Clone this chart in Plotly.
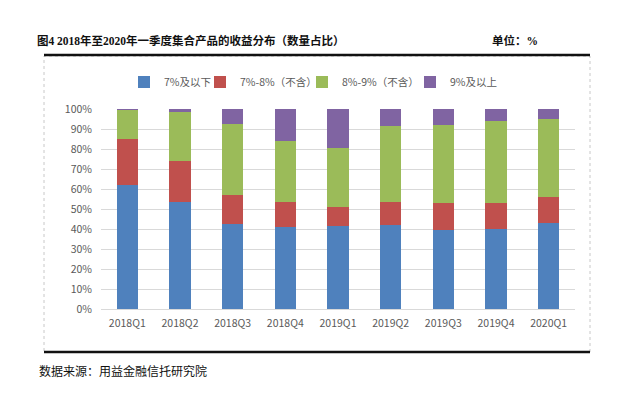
import plotly.graph_objects as go

categories = ["2018Q1", "2018Q2", "2018Q3", "2018Q4", "2019Q1", "2019Q2", "2019Q3", "2019Q4", "2020Q1"]
series_names = ["7%及以下", "7%-8%（不含）", "8%-9%（不含）", "9%及以上"]
below7 = [62.2, 53.3, 42.6, 40.8, 41.6, 41.9, 39.3, 40.0, 43.0]
r7to8 = [23.0, 20.5, 14.5, 12.7, 9.2, 11.6, 13.7, 13.0, 12.8]
r8to9 = [14.4, 24.5, 35.4, 30.7, 29.7, 38.2, 38.8, 40.8, 39.4]
above9 = [0.4, 1.7, 7.5, 15.8, 19.5, 8.3, 8.2, 6.2, 4.8]
colors = ["#4F81BD", "#C0504D", "#9BBB59", "#8064A2"]
y_ticks = [0, 10, 20, 30, 40, 50, 60, 70, 80, 90, 100]
y_ticktext = [f"{v}%" for v in y_ticks]

FONT = "Noto Sans CJK SC"
W, H = 635, 394
L, R, T, B = 101, 60, 109, 85
PW, PH = W - L - R, H - T - B

def px(x):
    return (x - L) / PW

def py(y):
    return 1 - (y - T) / PH

# legend square centres in the reference
legend_sq = [147, 223, 325, 433]
LEG_OFF = 20

fig = go.Figure()
legend_keys = ["legend", "legend2", "legend3", "legend4"]
for name, vals, c, lk in zip(series_names, [below7, r7to8, r8to9, above9], colors, legend_keys):
    fig.add_trace(go.Bar(x=categories, y=vals, name=name, legend=lk,
                         marker=dict(color=c, line=dict(width=0))))

leg_common = dict(orientation="h", yanchor="middle", y=py(82), xanchor="left",
                  font=dict(size=10.5, color="#595959"), itemwidth=30,
                  bgcolor="rgba(0,0,0,0)", borderwidth=0)
legs = {}
for lk, sq in zip(legend_keys, legend_sq):
    legs[lk] = dict(leg_common, x=px(sq - 3 - LEG_OFF))

fig.update_layout(
    width=W, height=H,
    margin=dict(l=L, r=R, t=T, b=B),
    barmode="stack", bargap=0.6,
    plot_bgcolor="white", paper_bgcolor="white",
    font=dict(family=FONT, size=11, color="#595959"),
    showlegend=True,
    xaxis=dict(showgrid=False, showline=True, linecolor="#D9D9D9", linewidth=1,
               tickfont=dict(size=10.5, color="#595959"), ticks="", fixedrange=True,
               ticklabelstandoff=4),
    yaxis=dict(range=[0, 100], tickvals=y_ticks, ticktext=y_ticktext, showgrid=True,
               gridcolor="#D9D9D9", gridwidth=1, zeroline=False, showline=False,
               tickfont=dict(size=10.5, color="#595959"), ticklabelstandoff=8,
               fixedrange=True),
    **legs,
)

shapes = [
    dict(type="rect", xref="paper", yref="paper", x0=px(44), x1=px(590), y0=py(352), y1=py(56),
         line=dict(color="#C8C8C8", width=1, dash="dot"), layer="below"),
    dict(type="line", xref="paper", yref="paper", x0=px(44), x1=px(590), y0=py(55), y1=py(55),
         line=dict(color="#111111", width=2.5)),
    dict(type="line", xref="paper", yref="paper", x0=px(44), x1=px(590), y0=py(352), y1=py(352),
         line=dict(color="#111111", width=2.5)),
]
fig.update_layout(shapes=shapes)

TFONT = "Liberation Serif, Noto Sans CJK SC"
fig.add_annotation(text="<b>图4 2018年至2020年一季度集合产品的收益分布（数量占比）</b>",
                   xref="paper", yref="paper", x=px(35), y=py(41), xanchor="left", yanchor="middle",
                   showarrow=False, font=dict(family=TFONT, size=11.5, color="#111111"))
fig.add_annotation(text="<b>单位：%</b>",
                   xref="paper", yref="paper", x=px(490), y=py(41), xanchor="left", yanchor="middle",
                   showarrow=False, font=dict(family=TFONT, size=11.5, color="#111111"))
fig.add_annotation(text="数据来源：用益金融信托研究院",
                   xref="paper", yref="paper", x=px(37), y=py(370), xanchor="left", yanchor="middle",
                   showarrow=False, font=dict(family=FONT, size=12, color="#111111"))

fig.write_html("out.html", config={"displayModeBar": False},
               post_script="document.body.style.margin='0';document.body.style.overflow='hidden';")
